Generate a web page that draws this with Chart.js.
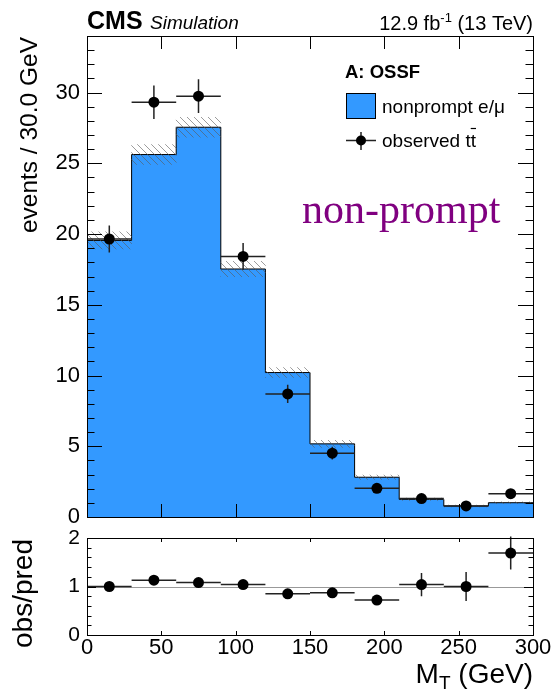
<!DOCTYPE html>
<html>
<head>
<meta charset="utf-8">
<script src="https://cdn.jsdelivr.net/npm/chart.js@4.4.1/dist/chart.umd.min.js"></script>
<style>
  html, body { margin: 0; padding: 0; background: #fff; }
  #wrap { position: relative; width: 554px; height: 695px; }
  #mainChart { position: absolute; left: 0; top: 0; }
  #ratioChart { position: absolute; left: 0; top: 530px; }
</style>
</head>
<body>
<div id="wrap">
  <canvas id="mainChart" width="554" height="530"></canvas>
  <canvas id="ratioChart" width="554" height="165"></canvas>
</div>
<script>
// M_T bins (GeV)
const binEdges = [0, 30, 60, 90, 120, 150, 180, 210, 240, 270, 300];
// nonprompt e/mu prediction and its uncertainty
const nonprompt = [19.55, 25.62, 27.55, 17.53, 10.21, 5.17, 2.81, 1.25, 0.78, 1.01];
const nonpromptUnc = [0.6, 0.7, 0.7, 0.55, 0.35, 0.25, 0.15, 0.08, 0.06, 0.07];
// observed ttbar
const observed = [19.65, 29.32, 29.75, 18.42, 8.70, 4.51, 2.03, 1.30, 0.78, 1.65];
const observedErr = [0.95, 1.18, 1.2, 0.95, 0.65, 0.45, 0.32, 0.25, 0.2, 0.33];
// obs/pred
const ratio = [1.0, 1.13, 1.08, 1.04, 0.85, 0.87, 0.72, 1.04, 1.0, 1.69];
const ratioErr = [0.05, 0.05, 0.05, 0.06, 0.08, 0.1, 0.1, 0.24, 0.3, 0.34];

const xTicks = [0, 50, 100, 150, 200, 250, 300];
const yTicks = [0, 5, 10, 15, 20, 25, 30];
const ratioTicks = [0, 1, 2];

const SANS = '"Liberation Sans", Arial, Helvetica, sans-serif';
const SERIF = '"Liberation Serif", "Times New Roman", serif';
const BLUE = '#3399ff';

const centers = binEdges.slice(0, -1).map((e, i) => (e + binEdges[i + 1]) / 2);
const halfWidth = (binEdges[1] - binEdges[0]) / 2;

// step outline points: left edge of each bin, plus the closing right edge
const stepPoints = binEdges.map((e, i) => ({ x: e, y: nonprompt[Math.min(i, nonprompt.length - 1)] }));

const hatch = (() => {
  const c = document.createElement('canvas');
  c.width = 7; c.height = 7;
  const g = c.getContext('2d');
  g.strokeStyle = 'rgba(90,90,90,0.6)';
  g.lineWidth = 1;
  g.beginPath();
  g.moveTo(-1, -1); g.lineTo(8, 8);
  g.moveTo(-1, 6); g.lineTo(1, 8);
  g.moveTo(6, -1); g.lineTo(8, 1);
  g.stroke();
  return g.createPattern(c, 'repeat');
})();

// inward ROOT-style ticks on all four sides plus the frame
function frameTicks(o) {
  return {
    id: 'frameTicks',
    afterDatasetsDraw(chart) {
      const { ctx, chartArea: a, scales: { x, y } } = chart;
      ctx.save();
      ctx.strokeStyle = '#000';
      ctx.lineWidth = 1;
      ctx.beginPath();
      const n = Math.round((y.max - y.min) / o.yMinor);
      for (let k = 0; k <= n; k++) {
        const v = y.min + k * o.yMinor;
        const major = Math.abs(v / o.yMajor - Math.round(v / o.yMajor)) < 1e-6;
        const len = major ? o.yMajorLen : o.yMinorLen;
        const py = Math.round(y.getPixelForValue(v)) + 0.5;
        ctx.moveTo(a.left, py); ctx.lineTo(a.left + len, py);
        ctx.moveTo(a.right, py); ctx.lineTo(a.right - len, py);
      }
      x.ticks.forEach(t => {
        const px = Math.round(x.getPixelForValue(t.value)) + 0.5;
        ctx.moveTo(px, a.top); ctx.lineTo(px, a.top + o.xLen);
        ctx.moveTo(px, a.bottom); ctx.lineTo(px, a.bottom - o.xLen);
      });
      ctx.stroke();
      ctx.strokeRect(Math.round(a.left) + 0.5, Math.round(a.top) + 0.5,
        Math.round(a.right) - Math.round(a.left), Math.round(a.bottom) - Math.round(a.top));
      ctx.restore();
    }
  };
}

// x/y error bars for any dataset carrying errY/errX
const errorBars = {
  id: 'errorBars',
  beforeDatasetDraw(chart, args) {
    const ds = chart.data.datasets[args.index];
    if (!ds.errY) return;
    const { ctx, scales: { x, y } } = chart;
    ctx.save();
    ctx.strokeStyle = '#222';
    ctx.lineWidth = 1.5;
    ctx.beginPath();
    ds.data.forEach((p, i) => {
      const px = x.getPixelForValue(p.x);
      const py = y.getPixelForValue(p.y);
      ctx.moveTo(x.getPixelForValue(p.x - ds.errX), py);
      ctx.lineTo(x.getPixelForValue(p.x + ds.errX), py);
      ctx.moveTo(px, y.getPixelForValue(p.y - ds.errY[i]));
      ctx.lineTo(px, y.getPixelForValue(p.y + ds.errY[i]));
    });
    ctx.stroke();
    ctx.restore();
  }
};

function rotatedText(ctx, text, bx, topY) {
  ctx.save();
  ctx.translate(bx, topY);
  ctx.rotate(-Math.PI / 2);
  ctx.textAlign = 'right';
  ctx.textBaseline = 'alphabetic';
  ctx.fillText(text, 0, 0);
  ctx.restore();
}

const mainText = {
  id: 'mainText',
  afterDraw(chart) {
    const ctx = chart.ctx;
    ctx.save();
    ctx.fillStyle = '#000';
    ctx.textBaseline = 'alphabetic';

    ctx.font = `bold 25px ${SANS}`;
    ctx.fillText('CMS', 87, 29);
    ctx.font = `italic 19px ${SANS}`;
    ctx.fillText('Simulation', 150, 29);

    const a = '12.9 fb', b = ' (13 TeV)', sup = '-1';
    ctx.font = `20px ${SANS}`;
    const wa = ctx.measureText(a).width, wb = ctx.measureText(b).width;
    ctx.font = `13px ${SANS}`;
    const ws = ctx.measureText(sup).width;
    const x0 = 533 - wa - ws - wb;
    ctx.font = `20px ${SANS}`;
    ctx.fillText(a, x0, 30);
    ctx.fillText(b, x0 + wa + ws, 30);
    ctx.font = `13px ${SANS}`;
    ctx.fillText(sup, x0 + wa, 22);

    ctx.font = `24.5px ${SANS}`;
    rotatedText(ctx, 'events / 30.0 GeV', 37, 37);

    // legend
    ctx.font = `bold 18.5px ${SANS}`;
    ctx.fillText('A: OSSF', 345, 78);
    ctx.fillStyle = BLUE;
    ctx.fillRect(346, 93, 29, 25);
    ctx.strokeStyle = '#000';
    ctx.lineWidth = 1;
    ctx.strokeRect(346.5, 93.5, 29, 25);
    ctx.fillStyle = '#000';
    ctx.font = `19px ${SANS}`;
    ctx.fillText('nonprompt e/\u03bc', 382, 113);

    ctx.strokeStyle = '#222';
    ctx.lineWidth = 1.5;
    ctx.beginPath();
    ctx.moveTo(346, 140.5); ctx.lineTo(376, 140.5);
    ctx.moveTo(361, 132); ctx.lineTo(361, 150);
    ctx.stroke();
    ctx.beginPath();
    ctx.arc(361, 140.5, 5, 0, Math.PI * 2);
    ctx.fill();
    const obsTxt = 'observed t';
    ctx.fillText(obsTxt + 't', 382, 147);
    const w1 = ctx.measureText(obsTxt).width, wt = ctx.measureText('t').width;
    ctx.lineWidth = 1.2;
    ctx.strokeStyle = '#000';
    ctx.beginPath();
    ctx.moveTo(382 + w1, 128.5); ctx.lineTo(382 + w1 + wt, 128.5);
    ctx.stroke();

    ctx.fillStyle = '#800080';
    ctx.font = `42px ${SERIF}`;
    ctx.fillText('non-prompt', 302, 223);
    ctx.restore();
  }
};

const ratioText = {
  id: 'ratioText',
  beforeDatasetsDraw(chart) {
    const { ctx, scales: { x, y } } = chart;
    ctx.save();
    ctx.strokeStyle = '#999';
    ctx.lineWidth = 1;
    const py = Math.round(y.getPixelForValue(1)) + 0.5;
    ctx.beginPath();
    ctx.moveTo(x.getPixelForValue(x.min), py);
    ctx.lineTo(x.getPixelForValue(x.max), py);
    ctx.stroke();
    ctx.restore();
  },
  afterDraw(chart) {
    const ctx = chart.ctx;
    ctx.save();
    ctx.fillStyle = '#000';
    ctx.font = `28px ${SANS}`;
    rotatedText(ctx, 'obs/pred', 32, 9);

    ctx.textBaseline = 'alphabetic';
    const big = `28px ${SANS}`, small = `19px ${SANS}`;
    ctx.font = big;
    const wm = ctx.measureText('M').width, wr = ctx.measureText(' (GeV)').width;
    ctx.font = small;
    const wsub = ctx.measureText('T').width;
    const x0 = 533 - wm - wsub - wr;
    ctx.font = big;
    ctx.fillText('M', x0, 153);
    ctx.fillText(' (GeV)', x0 + wm + wsub, 153);
    ctx.font = small;
    ctx.fillText('T', x0 + wm, 159);
    ctx.restore();
  }
};

const baseScales = (yMin, yMax, yTickVals, yFont, xHeight, showX) => ({
  x: {
    type: 'linear', min: 0, max: 300, offset: false,
    grid: { display: false, drawTicks: false }, border: { display: false },
    ticks: { display: showX, color: '#000', font: { family: SANS, size: 22 }, padding: 0, maxRotation: 0, autoSkip: false },
    afterBuildTicks: s => { s.ticks = xTicks.map(v => ({ value: v })); },
    afterFit: s => { s.height = xHeight; }
  },
  y: {
    type: 'linear', min: yMin, max: yMax,
    grid: { display: false, drawTicks: false }, border: { display: false },
    ticks: { color: '#000', font: { family: SANS, size: yFont }, padding: 7 },
    afterBuildTicks: s => { s.ticks = yTickVals.map(v => ({ value: v })); },
    afterFit: s => { s.width = 87; s.paddingTop = 0; s.paddingBottom = 0; }
  }
});

const commonOpts = {
  responsive: false,
  animation: false,
  devicePixelRatio: 1,
  events: []
};

new Chart(document.getElementById('mainChart'), {
  type: 'line',
  data: {
    datasets: [
      {
        type: 'scatter',
        data: observed.map((v, i) => ({ x: centers[i], y: v })),
        errY: observedErr, errX: halfWidth,
        pointRadius: 5.5, pointBackgroundColor: '#000', pointBorderWidth: 0,
        order: 1
      },
      {
        type: 'bar',
        data: nonprompt.map((v, i) => ({ x: centers[i], y: [v - nonpromptUnc[i], v + nonpromptUnc[i]] })),
        backgroundColor: hatch, borderWidth: 0,
        barPercentage: 1, categoryPercentage: 1,
        order: 2
      },
      {
        type: 'line',
        data: stepPoints,
        stepped: true, fill: 'origin',
        backgroundColor: BLUE, borderColor: '#000', borderWidth: 1,
        pointRadius: 0,
        order: 3
      }
    ]
  },
  options: {
    ...commonOpts,
    layout: { padding: { top: 36, right: 21, left: 0, bottom: 0 } },
    plugins: { legend: { display: false }, tooltip: { enabled: false } },
    scales: baseScales(0, 34, yTicks, 22, 13, false)
  },
  plugins: [errorBars, frameTicks({ yMinor: 1, yMajor: 5, yMajorLen: 15, yMinorLen: 7.5, xLen: 13 }), mainText]
});

new Chart(document.getElementById('ratioChart'), {
  type: 'scatter',
  data: {
    datasets: [
      {
        data: ratio.map((v, i) => ({ x: centers[i], y: v })),
        errY: ratioErr, errX: halfWidth,
        pointRadius: 5.5, pointBackgroundColor: '#000', pointBorderWidth: 0
      }
    ]
  },
  options: {
    ...commonOpts,
    layout: { padding: { top: 8, right: 21, left: 0, bottom: 0 } },
    plugins: { legend: { display: false }, tooltip: { enabled: false } },
    scales: baseScales(0, 2, ratioTicks, 21, 60, true)
  },
  plugins: [errorBars, frameTicks({ yMinor: 0.2, yMajor: 1, yMajorLen: 9, yMinorLen: 4.5, xLen: 4 }), ratioText]
});
</script>
</body>
</html>
